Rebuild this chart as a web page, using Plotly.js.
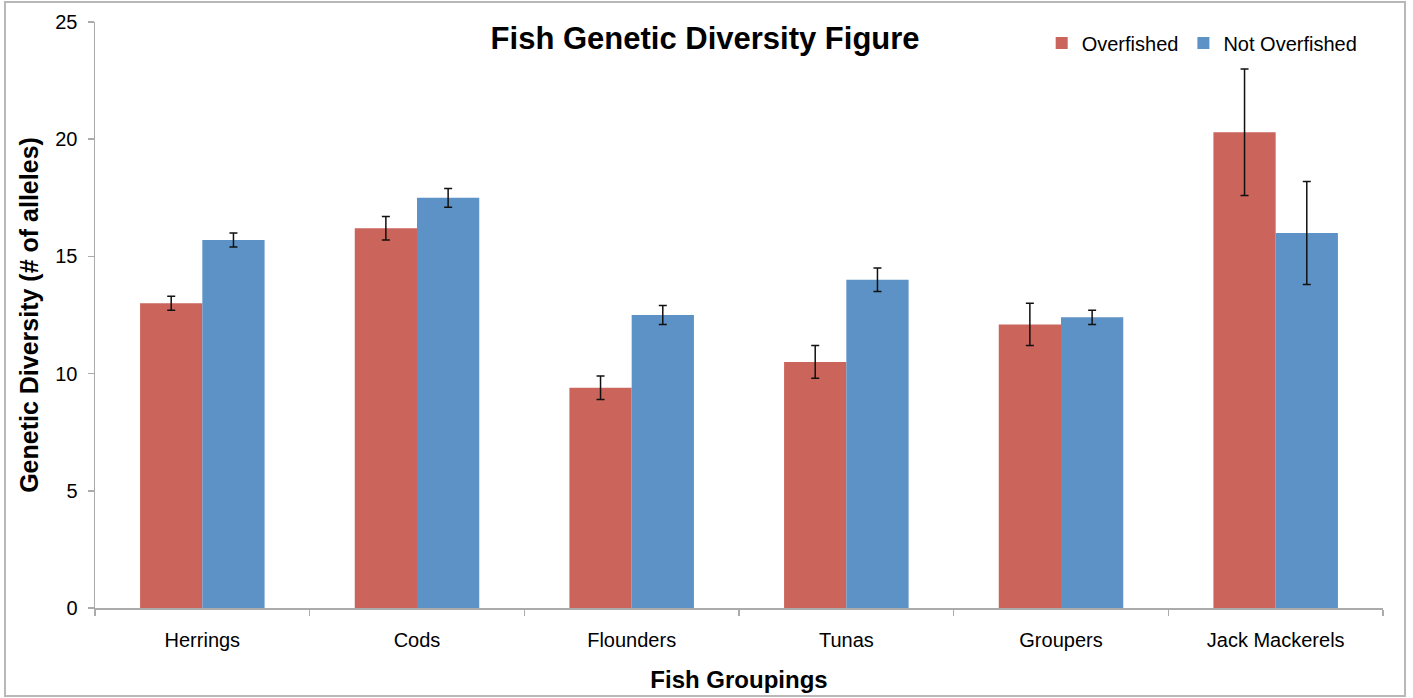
<!DOCTYPE html>
<html>
<head>
<meta charset="utf-8">
<script src="https://cdn.plot.ly/plotly-3.0.1.min.js"></script>
<style>
html,body{margin:0;padding:0;background:#fff;}
#chart{width:1413px;height:698px;}
</style>
</head>
<body>
<div id="chart"></div>
<script>
const categories = ["Herrings", "Cods", "Flounders", "Tunas", "Groupers", "Jack Mackerels"];
const overfished = [13.0, 16.2, 9.4, 10.5, 12.1, 20.3];
const overfishedErr = [0.3, 0.5, 0.5, 0.7, 0.9, 2.7];
const notOverfished = [15.7, 17.5, 12.5, 14.0, 12.4, 16.0];
const notOverfishedErr = [0.3, 0.4, 0.4, 0.5, 0.3, 2.2];
const yTicks = [0, 5, 10, 15, 20, 25];

const font = "Liberation Sans, Arial, sans-serif";

const traces = [
  {
    type: "bar", name: "Overfished", x: categories, y: overfished,
    marker: {color: "#CB655B"},
    error_y: {type: "data", array: overfishedErr, visible: true, color: "#111", thickness: 1.5, width: 4}
  },
  {
    type: "bar", name: "Not Overfished", x: categories, y: notOverfished,
    marker: {color: "#5C92C6"},
    error_y: {type: "data", array: notOverfishedErr, visible: true, color: "#111", thickness: 1.5, width: 4}
  }
];

const layout = {
  width: 1413, height: 698,
  margin: {l: 95, r: 30, t: 22, b: 90},
  paper_bgcolor: "#fff", plot_bgcolor: "#fff",
  font: {family: font, color: "#000", size: 20},
  barmode: "group", bargap: 0.42, bargroupgap: 0,
  showlegend: true,
  title: {text: "<b>Fish Genetic Diversity Figure</b>", font: {family: font, size: 31, color: "#000"},
          x: 0.499, xanchor: "center", y: 0.945, yanchor: "middle"},
  legend: {orientation: "h", x: 0.735, y: 0.964, xanchor: "left", yanchor: "middle",
           font: {family: font, size: 20, color: "#000"}, bgcolor: "rgba(0,0,0,0)",
           itemwidth: 30, tracegroupgap: 0},
  xaxis: {
    type: "category", showline: true, linecolor: "#ababab", linewidth: 1.5,
    ticks: "outside", tickson: "boundaries", ticklen: 6, tickcolor: "#ababab", tickwidth: 1.5,
    showgrid: false, zeroline: false, ticklabelstandoff: 13,
    tickfont: {family: font, size: 20, color: "#000"},
    title: {text: "<b>Fish Groupings</b>", font: {family: font, size: 24, color: "#000"}, standoff: 21}
  },
  yaxis: {
    range: [0, 25], tickvals: yTicks, showline: true, linecolor: "#ababab", linewidth: 1.5,
    ticks: "outside", ticklen: 6, tickcolor: "#ababab", tickwidth: 1.5,
    showgrid: false, zeroline: false, ticklabelstandoff: 6,
    tickfont: {family: font, size: 20, color: "#000"},
    title: {text: "<b>Genetic Diversity (# of alleles)</b>", font: {family: font, size: 25, color: "#000"}, standoff: 9}
  },
  shapes: [{
    type: "rect", xref: "paper", yref: "paper",
    x0: -0.0699, x1: 1.0171, y0: -0.1502, y1: 1.0341,
    line: {color: "#b8b8b8", width: 2}, fillcolor: "rgba(0,0,0,0)"
  }]
};

Plotly.newPlot("chart", traces, layout, {displayModeBar: false, staticPlot: true});
</script>
</body>
</html>
